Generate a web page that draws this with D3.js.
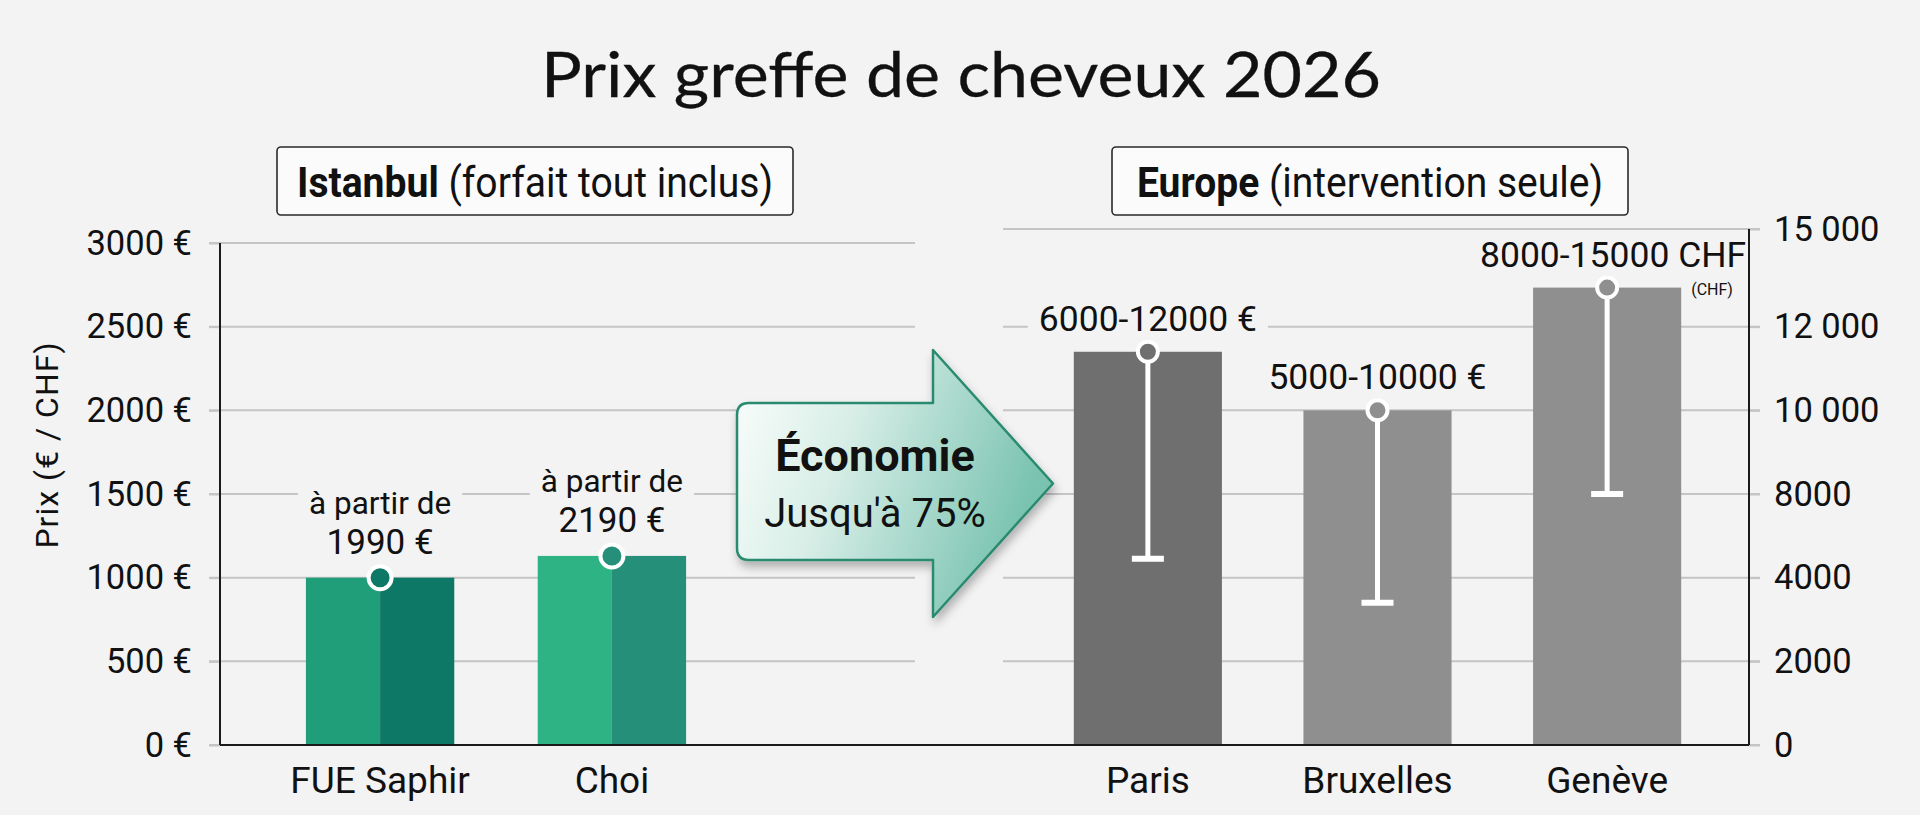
<!DOCTYPE html>
<html><head><meta charset="utf-8">
<script src="https://cdn.jsdelivr.net/npm/d3@7/dist/d3.min.js"></script>
<style>
html,body{margin:0;padding:0;background:#f3f3f3;}
svg{display:block;}
text{font-family:Roboto,"Noto Sans",sans-serif;fill:#111;}
</style></head>
<body><svg id="c" width="1920" height="815"></svg>
<script>
// ---------- data ----------
const title = "Prix greffe de cheveux 2026";
const yAxisTitle = "Prix (€ / CHF)";
const leftCats = ["FUE Saphir", "Choi"];
const leftValues = [1000, 1130];
const leftFromLabel = "à partir de";
const leftPriceLabels = ["1990 €", "2190 €"];
const leftColorsA = ["#209e79", "#2eb385"];
const leftColorsB = ["#0e7866", "#268f79"];
const rightCats = ["Paris", "Bruxelles", "Genève"];
const rightValues = [11400, 10000, 13200];
const rightLows = [4900, 3400, 8000];
const rightRangeLabels = ["6000-12000 €", "5000-10000 €", "8000-15000 CHF"];
const rightColors = ["#6f6f6f", "#8f8f8f", "#8f8f8f"];
const leftTicks = [0, 500, 1000, 1500, 2000, 2500, 3000];
const leftTickLabels = ["0 €", "500 €", "1000 €", "1500 €", "2000 €", "2500 €", "3000 €"];
const rightTicks = [0, 2000, 4000, 8000, 10000, 12000, 15000];
const rightTickLabels = ["0", "2000", "4000", "8000", "10 000", "12 000", "15 000"];
const headerLeft = ["Istanbul", " (forfait tout inclus)"];
const headerRight = ["Europe", " (intervention seule)"];
const arrowLines = ["Économie", "Jusqu'à 75%"];
const chfNote = "(CHF)";

// ---------- layout ----------
const svg = d3.select("#c");
const BG = "#f3f3f3";
svg.append("rect").attr("width", 1920).attr("height", 815).attr("fill", BG);

const axL = 220, axR = 1749, gridLEnd = 915, gridRStart = 1003;
const yL = d3.scaleLinear().domain([0, 3000]).range([745, 243]);
const yR = d3.scaleLinear().domain(rightTicks)
  .range(rightTicks.map((d, i) => i < 6 ? yL(i * 500) : yL(3000) - 14));
const xL = d3.scaleBand().domain(leftCats).range([190, 802]).paddingInner(0.36).paddingOuter(0.5);
const xR = d3.scaleBand().domain(rightCats).range([959, 1796]).paddingInner(0.355).paddingOuter(0.5);

const defs = svg.append("defs");
const grad = defs.append("linearGradient").attr("id", "ag").attr("x1", "0").attr("x2", "1").attr("y1", "0").attr("y2", "0.3");
grad.append("stop").attr("offset", "0").attr("stop-color", "#fcfefd");
grad.append("stop").attr("offset", "0.4").attr("stop-color", "#d8eee7");
grad.append("stop").attr("offset", "1").attr("stop-color", "#7ac3b1");
const f = defs.append("filter").attr("id", "sh").attr("x", "-20%").attr("y", "-20%").attr("width", "140%").attr("height", "150%");
f.append("feDropShadow").attr("dx", 2).attr("dy", 6).attr("stdDeviation", 5).attr("flood-color", "#000").attr("flood-opacity", 0.28);

// title
svg.append("text").attr("x", 961).attr("y", 97).attr("text-anchor", "middle")
  .style("font-family", "Lato, 'Open Sans', sans-serif").style("font-size", "62px")
  .attr("stroke", "#111").attr("stroke-width", 0.3)
  .attr("textLength", 840).attr("lengthAdjust", "spacingAndGlyphs").text(title);

// grid lines
const grid = svg.append("g").attr("stroke", "#c5c5c5").attr("stroke-width", 2);
grid.selectAll(".gl").data(leftTicks).join("line")
  .attr("x1", axL - 11).attr("x2", gridLEnd).attr("y1", d => yL(d)).attr("y2", d => yL(d));
grid.selectAll(".gr").data(rightTicks).join("line").attr("class", "gr")
  .attr("x1", gridRStart).attr("x2", axR + 11).attr("y1", d => yR(d)).attr("y2", d => yR(d));

// axes
const aL = svg.append("g").attr("transform", `translate(${axL},0)`)
  .call(d3.axisLeft(yL).tickValues(leftTicks).tickFormat((d, i) => leftTickLabels[i]).tickSize(11).tickPadding(17));
const aR = svg.append("g").attr("transform", `translate(${axR},0)`)
  .call(d3.axisRight(yR).tickValues(rightTicks).tickFormat((d, i) => rightTickLabels[i]).tickSize(11).tickPadding(14));
[aL, aR].forEach(a => {
  a.select(".domain").remove();
  a.selectAll(".tick line").attr("stroke", "#c5c5c5").attr("stroke-width", 2);
  a.selectAll(".tick text").style("font-family", "Roboto").style("font-size", "34.5px").attr("fill", "#151515");
});

// y axis title
svg.append("text").attr("transform", `translate(58,445) rotate(-90)`).attr("text-anchor", "middle")
  .style("font-size", "32px").style("letter-spacing", "1px").attr("fill", "#222").text(yAxisTitle);

// header boxes
function header(cx, parts, w) {
  const g = svg.append("g");
  g.append("rect").attr("x", cx - 258).attr("y", 147).attr("width", 516).attr("height", 68).attr("rx", 4)
    .attr("fill", "#fbfbfb").attr("stroke", "#2a2a2a").attr("stroke-width", 1.6);
  const t = g.append("text").attr("x", cx).attr("y", 197).attr("text-anchor", "middle").style("font-size", "42px")
    .attr("textLength", w).attr("lengthAdjust", "spacingAndGlyphs");
  t.append("tspan").style("font-weight", "bold").text(parts[0]);
  t.append("tspan").text(parts[1]);
}
header(535, headerLeft, 476);
header(1370, headerRight, 466);

// label helper with background
function label(x, y, txt, size, weight) {
  const g = svg.append("g");
  const r = g.append("rect").attr("fill", BG);
  const t = g.append("text").attr("x", x).attr("y", y).attr("text-anchor", "middle")
    .style("font-size", size + "px").style("font-weight", weight || "normal").attr("fill", "#111").text(txt);
  const b = t.node().getBBox();
  r.attr("x", b.x - 11).attr("y", b.y).attr("width", b.width + 22).attr("height", b.height);
  return g;
}

// Istanbul bars
const bwL = xL.bandwidth();
const gL = svg.append("g");
gL.selectAll(".a").data(leftCats).join("rect").attr("x", d => xL(d)).attr("width", bwL / 2)
  .attr("y", (d, i) => yL(leftValues[i])).attr("height", (d, i) => yL(0) - yL(leftValues[i]))
  .attr("fill", (d, i) => leftColorsA[i]);
gL.selectAll(".b").data(leftCats).join("rect").attr("class", "b").attr("x", d => xL(d) + bwL / 2).attr("width", bwL / 2)
  .attr("y", (d, i) => yL(leftValues[i])).attr("height", (d, i) => yL(0) - yL(leftValues[i]))
  .attr("fill", (d, i) => leftColorsB[i]);
leftCats.forEach((c, i) => {
  const cx = xL(c) + bwL / 2, cy = yL(leftValues[i]);
  label(cx, cy - 64, leftFromLabel, 31.5);
  label(cx, cy - 24, leftPriceLabels[i], 35);
  svg.append("circle").attr("cx", cx).attr("cy", cy).attr("r", 11.5).attr("fill", leftColorsB[i])
    .attr("stroke", "#fff").attr("stroke-width", 4);
});

// Europe bars
const bwR = xR.bandwidth();
svg.append("g").selectAll("rect").data(rightCats).join("rect")
  .attr("x", d => xR(d)).attr("width", bwR)
  .attr("y", (d, i) => yR(rightValues[i])).attr("height", (d, i) => yR(0) - yR(rightValues[i]))
  .attr("fill", (d, i) => rightColors[i]);
rightCats.forEach((c, i) => {
  const cx = xR(c) + bwR / 2, cy = yR(rightValues[i]), ly = yR(rightLows[i]);
  svg.append("line").attr("x1", cx).attr("x2", cx).attr("y1", cy).attr("y2", ly).attr("stroke", "#fff").attr("stroke-width", 5);
  svg.append("line").attr("x1", cx - 16).attr("x2", cx + 16).attr("y1", ly).attr("y2", ly).attr("stroke", "#fff").attr("stroke-width", 6);
  svg.append("circle").attr("cx", cx).attr("cy", cy).attr("r", 10).attr("fill", rightColors[i])
    .attr("stroke", "#fff").attr("stroke-width", 4);
  label(cx + (i === 2 ? 6 : 0), cy - 21, rightRangeLabels[i], 35.5);
  if (i === 2) {
    svg.append("text").attr("x", xR(c) + bwR + 10).attr("y", cy + 7).style("font-size", "16px").attr("fill", "#111").text(chfNote);
  }
});

// axis lines (drawn above label backgrounds)
svg.append("line").attr("x1", axL).attr("x2", axL).attr("y1", yL(3000)).attr("y2", yL(0)).attr("stroke", "#1a1a1a").attr("stroke-width", 2);
svg.append("line").attr("x1", axR).attr("x2", axR).attr("y1", yR(15000)).attr("y2", yR(0)).attr("stroke", "#1a1a1a").attr("stroke-width", 2);
svg.append("line").attr("x1", axL).attr("x2", axR).attr("y1", yL(0)).attr("y2", yL(0)).attr("stroke", "#1a1a1a").attr("stroke-width", 2);

// category labels
svg.append("g").selectAll("text").data(leftCats).join("text")
  .attr("x", d => xL(d) + bwL / 2).attr("y", yL(0) + 48).attr("text-anchor", "middle").style("font-size", "37px").text(d => d);
svg.append("g").selectAll("text").data(rightCats).join("text")
  .attr("x", d => xR(d) + bwR / 2).attr("y", yL(0) + 48).attr("text-anchor", "middle").style("font-size", "37px").text(d => d);

// arrow callout
const bx0 = 737, bx1 = 933, by0 = 403, by1 = 560, hy0 = 350, hy1 = 617, tipX = 1053, rr = 12;
const tipY = (hy0 + hy1) / 2;
const p = d3.path();
p.moveTo(bx0 + rr, by0);
p.lineTo(bx1, by0); p.lineTo(bx1, hy0); p.lineTo(tipX, tipY); p.lineTo(bx1, hy1); p.lineTo(bx1, by1);
p.lineTo(bx0 + rr, by1); p.quadraticCurveTo(bx0, by1, bx0, by1 - rr);
p.lineTo(bx0, by0 + rr); p.quadraticCurveTo(bx0, by0, bx0 + rr, by0); p.closePath();
const ga = svg.append("g");
ga.append("path").attr("d", p.toString()).attr("fill", "url(#ag)").attr("stroke", "#2c8a70").attr("stroke-width", 2.5)
  .attr("stroke-linejoin", "round").attr("filter", "url(#sh)");
ga.append("text").attr("x", 875).attr("y", 471).attr("text-anchor", "middle").style("font-size", "45px").style("font-weight", "bold").text(arrowLines[0]);
ga.append("text").attr("x", 875).attr("y", 527).attr("text-anchor", "middle").style("font-size", "40px").text(arrowLines[1]);
</script></body></html>
